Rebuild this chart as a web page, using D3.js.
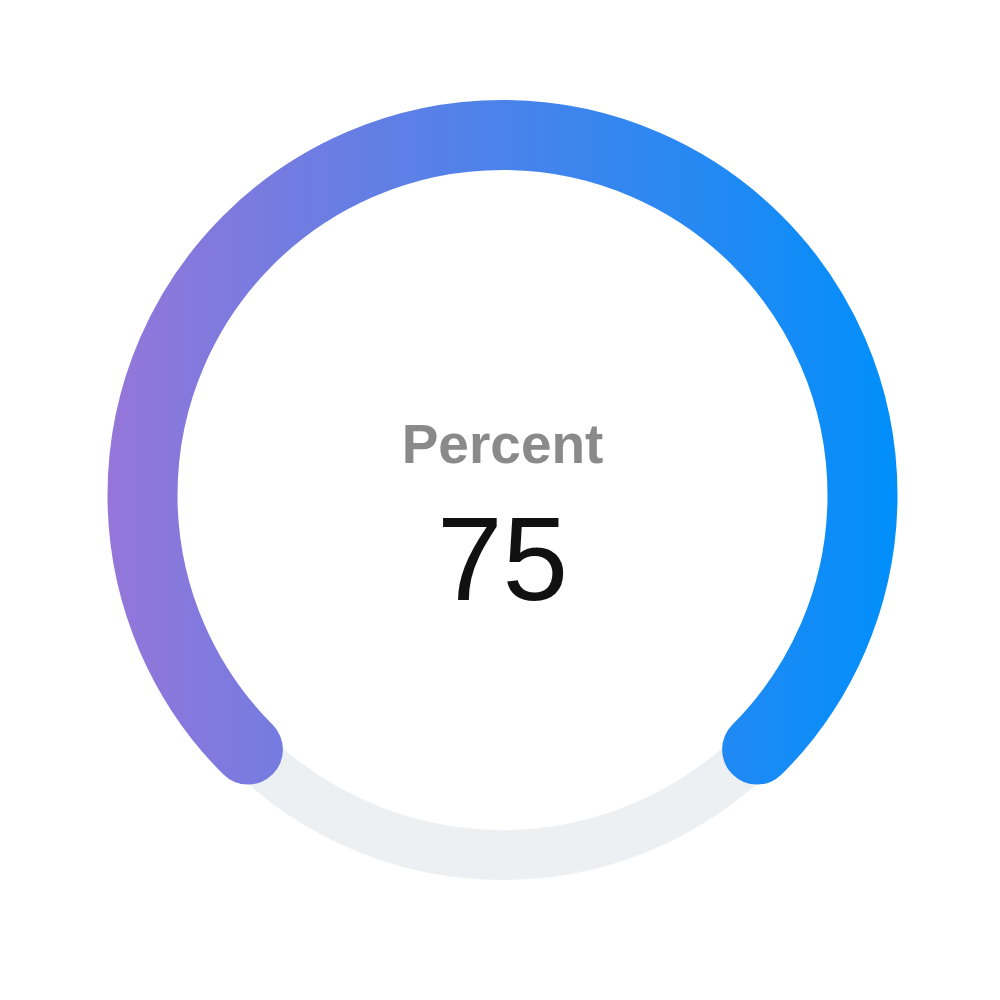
<!DOCTYPE html>
<html>
<head>
<meta charset="utf-8">
<script src="https://cdn.jsdelivr.net/npm/d3@7"></script>
<style>
html,body{margin:0;padding:0;background:#fff;}
svg{display:block;}
</style>
</head>
<body>
<svg id="chart" width="1000" height="1000"></svg>
<script>
const labels = ["Percent"];
const values = [75];
const gaugeMax = [100];

const svg = d3.select("#chart");
const cx = 502.5, cy = 495;
const ringR = 360, barWidth = 70, trackWidth = 50;
const startAngle = -135 * Math.PI / 180;

const angle = d3.scaleLinear().domain([0, gaugeMax[0]]).range([startAngle, startAngle + 2 * Math.PI]);

const defs = svg.append("defs");
const grad = defs.append("linearGradient")
  .attr("id", "g1").attr("gradientUnits", "userSpaceOnUse")
  .attr("x1", -ringR - barWidth / 2).attr("x2", ringR + barWidth / 2)
  .attr("y1", 0).attr("y2", 0);
grad.append("stop").attr("offset", "0%").attr("stop-color", "#9576d9");
grad.append("stop").attr("offset", "100%").attr("stop-color", "#008ffb");

const g = svg.append("g").attr("transform", `translate(${cx},${cy})`);

function arcPath(a0, a1) {
  const p = d3.path();
  p.arc(0, 0, ringR, a0 - Math.PI / 2, a1 - Math.PI / 2, false);
  return p.toString();
}

// track (full circle)
g.append("circle")
  .attr("r", ringR)
  .attr("fill", "none")
  .attr("stroke", "#edf0f3")
  .attr("stroke-width", trackWidth);

// value bar
g.append("path")
  .attr("d", arcPath(angle(0), angle(values[0])))
  .attr("fill", "none")
  .attr("stroke", "url(#g1)")
  .attr("stroke-width", barWidth)
  .attr("stroke-linecap", "round");

g.append("text")
  .attr("x", 0).attr("y", 463 - cy)
  .attr("text-anchor", "middle")
  .attr("font-family", "Liberation Sans, Arial, sans-serif")
  .attr("font-weight", "bold")
  .attr("font-size", 55)
  .attr("fill", "#8a8a8a")
  .text(labels[0]);

g.append("text")
  .attr("x", 0).attr("y", 600 - cy)
  .attr("text-anchor", "middle")
  .attr("font-family", "Liberation Sans, Arial, sans-serif")
  .attr("font-size", 118)
  .attr("fill", "#111111")
  .text(values[0]);
</script>
</body>
</html>
